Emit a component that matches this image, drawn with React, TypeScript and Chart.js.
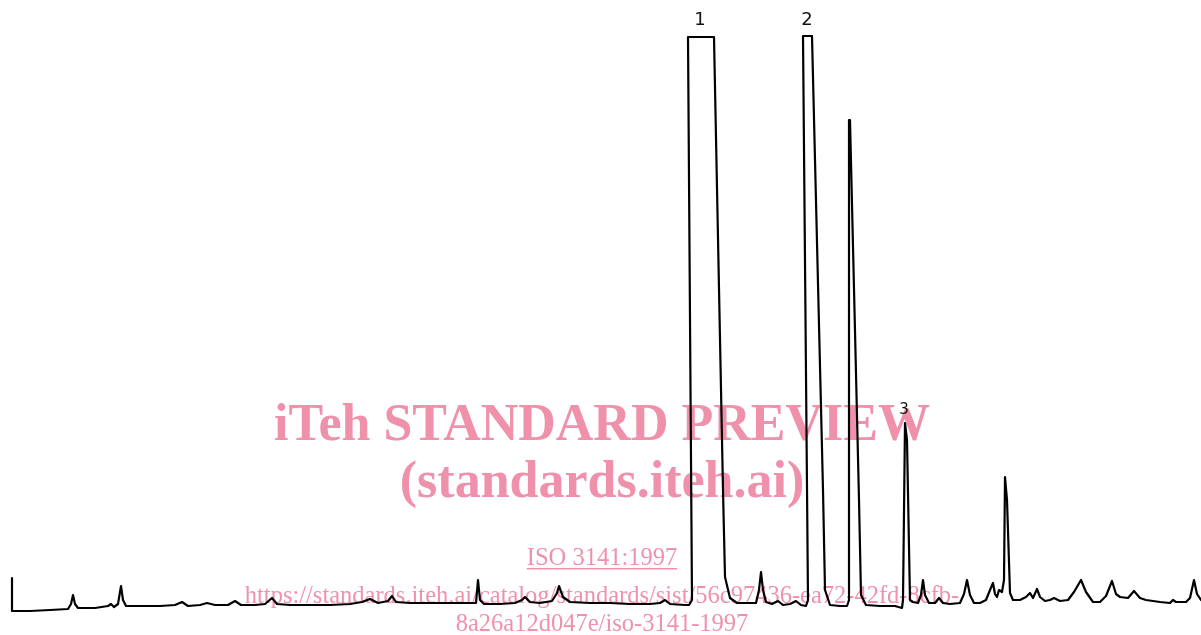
import React, { useEffect, useRef } from "react";
import { Chart, registerables } from "chart.js";

Chart.register(...registerables);

// Retention time (arbitrary units) and detector response (arbitrary units)
const retention: number[] = [
  12, 12, 30, 50, 68, 71, 73, 75, 78, 95, 108, 111, 114, 118, 121, 123, 126, 140, 160, 175,
  182, 188, 200, 207, 215, 228, 235, 241, 255, 265, 272, 277, 290, 310, 330, 350, 362, 370, 378, 388,
  392, 396, 410, 430, 450, 465, 476, 478, 480, 484, 500, 515, 522, 525, 530, 540, 552, 557, 559, 563,
  570, 590, 610, 630, 650, 660, 665, 670, 685, 689, 692, 688, 714, 723, 725, 730, 737, 748, 756, 759,
  761, 763, 766, 772, 778, 783, 790, 796, 801, 806, 808, 803, 812, 823, 825, 830, 840, 847, 849, 849,
  850, 859, 861, 866, 880, 895, 902, 903, 905, 907, 910, 913, 918, 921, 923, 925, 929, 935, 939, 943,
  950, 960, 964, 967, 970, 974, 980, 986, 990, 993, 995, 997, 999, 1002, 1004, 1005, 1007, 1010, 1013, 1020,
  1026, 1030, 1033, 1037, 1040, 1045, 1050, 1054, 1060, 1068, 1074, 1081, 1086, 1093, 1100, 1106, 1112, 1116, 1120, 1128,
  1134, 1140, 1146, 1160, 1170, 1173, 1176, 1186, 1190, 1194, 1197, 1201,
];

const response: number[] = [
  57, 24, 24, 25, 26, 31, 40, 31, 27, 27, 29, 31, 28, 31, 49, 35, 29, 29, 29, 30,
  33, 29, 30, 32, 30, 30, 34, 30, 30, 31, 37, 31, 30, 30, 30, 31, 33, 36, 32, 34,
  39, 33, 32, 32, 32, 32, 32, 55, 35, 31, 31, 32, 35, 38, 33, 32, 34, 42, 49, 38,
  33, 32, 32, 31, 31, 32, 35, 31, 30, 30, 35, 598, 598, 145, 58, 37, 32, 32, 32, 45,
  63, 45, 33, 31, 34, 30, 31, 34, 30, 29, 35, 599, 599, 145, 45, 30, 29, 29, 35, 515,
  515, 135, 40, 30, 29, 29, 27, 35, 212, 195, 35, 33, 32, 40, 55, 40, 32, 32, 37, 32,
  31, 32, 41, 55, 40, 32, 32, 35, 45, 52, 41, 38, 45, 43, 55, 158, 135, 42, 35, 35,
  38, 42, 37, 46, 38, 34, 35, 37, 34, 35, 43, 55, 43, 33, 33, 39, 54, 41, 38, 37,
  44, 37, 35, 33, 32, 35, 33, 33, 37, 55, 41, 35,
];

const peakLabels: string[] = ["1", "2", "3"];
const peakLabelX: number[] = [700, 807, 904];
const peakLabelY: number[] = [615, 615, 225];

const watermarkLines: string[] = [
  "iTeh STANDARD PREVIEW",
  "(standards.iteh.ai)",
  "ISO 3141:1997",
  "https://standards.iteh.ai/catalog/standards/sist/56c97436-ea72-42fd-8cfb-",
  "8a26a12d047e/iso-3141-1997",
];

const PINK = "#f091ac";

const watermarkPlugin = {
  id: "watermark",
  afterDatasetsDraw(chart: any) {
    const ctx = chart.ctx as CanvasRenderingContext2D;
    const cx = 602;
    ctx.save();
    ctx.globalCompositeOperation = "multiply";
    ctx.fillStyle = PINK;
    ctx.textAlign = "center";
    ctx.textBaseline = "alphabetic";
    ctx.font = "bold 52px 'Liberation Serif', 'DejaVu Serif', serif";
    ctx.fillText(watermarkLines[0], cx, 440);
    ctx.fillText(watermarkLines[1], cx, 497);
    ctx.font = "24.5px 'Liberation Serif', 'DejaVu Serif', serif";
    ctx.fillText(watermarkLines[2], cx, 565);
    const w = ctx.measureText(watermarkLines[2]).width;
    ctx.fillRect(cx - w / 2, 568, w, 1.5);
    ctx.fillText(watermarkLines[3], cx, 603);
    ctx.fillText(watermarkLines[4], cx, 631);
    ctx.restore();
  },
};

const labelPlugin = {
  id: "peakLabels",
  afterDatasetsDraw(chart: any) {
    const ctx = chart.ctx as CanvasRenderingContext2D;
    const xs = chart.scales.x;
    const ys = chart.scales.y;
    ctx.save();
    ctx.fillStyle = "#111";
    ctx.textAlign = "center";
    ctx.textBaseline = "middle";
    peakLabels.forEach((t, i) => {
      ctx.font = i < 2 ? "18px 'DejaVu Sans', sans-serif" : "15px 'DejaVu Sans', sans-serif";
      ctx.fillText(t, xs.getPixelForValue(peakLabelX[i]), ys.getPixelForValue(peakLabelY[i]));
    });
    ctx.restore();
  },
};

export default function App() {
  const ref = useRef<HTMLCanvasElement | null>(null);
  useEffect(() => {
    if (!ref.current) return;
    const points = retention.map((x, i) => ({ x, y: response[i] }));
    const chart = new Chart(ref.current, {
      type: "line",
      data: {
        datasets: [
          {
            data: points,
            borderColor: "#000",
            borderWidth: 2.2,
            pointRadius: 0,
            tension: 0,
            fill: false,
            borderJoinStyle: "round",
            borderCapStyle: "round",
          },
        ],
      },
      options: {
        animation: false,
        responsive: false,
        maintainAspectRatio: false,
        layout: { padding: 0 },
        plugins: { legend: { display: false }, tooltip: { enabled: false } },
        scales: {
          x: { type: "linear", min: 0, max: 1201, display: false },
          y: { type: "linear", min: 0, max: 635, display: false },
        },
      },
      plugins: [labelPlugin, watermarkPlugin],
    });
    return () => chart.destroy();
  }, []);
  return (
    <div style={{ position: "fixed", left: 0, top: 0, width: 1201, height: 635, background: "#fff" }}>
      <canvas ref={ref} width={1201} height={635} style={{ width: 1201, height: 635, display: "block" }} />
    </div>
  );
}
